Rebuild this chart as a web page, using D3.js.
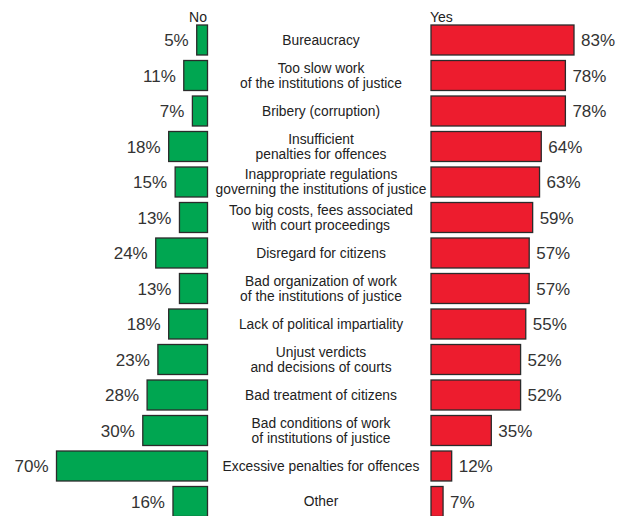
<!DOCTYPE html>
<html>
<head>
<meta charset="utf-8">
<script src="https://cdn.jsdelivr.net/npm/d3@7"></script>
<style>
  html, body { margin: 0; padding: 0; background: #fff; }
  svg { display: block; font-family: "Liberation Sans", Arial, sans-serif; }
</style>
</head>
<body>
<svg id="chart" width="629" height="516"></svg>
<script>
// Reasons given, with the share answering "No" and "Yes" (%)
const categories = [
  "Bureaucracy",
  "Too slow work\nof the institutions of justice",
  "Bribery (corruption)",
  "Insufficient\npenalties for offences",
  "Inappropriate regulations\ngoverning the institutions of justice",
  "Too big costs, fees associated\nwith court proceedings",
  "Disregard for citizens",
  "Bad organization of work\nof the institutions of justice",
  "Lack of political impartiality",
  "Unjust verdicts\nand decisions of courts",
  "Bad treatment of citizens",
  "Bad conditions of work\nof institutions of justice",
  "Excessive penalties for offences",
  "Other"
];
const noValues  = [5, 11, 7, 18, 15, 13, 24, 13, 18, 23, 28, 30, 70, 16];
const yesValues = [83, 78, 78, 64, 63, 59, 57, 57, 55, 52, 52, 35, 12, 7];
const seriesNames = ["No", "Yes"];

const svg = d3.select("#chart");

// 35.5 px per row, 30 px bars
const y = d3.scaleBand()
  .domain(d3.range(categories.length))
  .range([25, 25 + 35.5 * (categories.length - 0.155)])
  .paddingInner(0.155)
  .paddingOuter(0);

// "No" bars grow leftwards from x = 207.5, "Yes" bars rightwards from x = 431
const xNo  = d3.scaleLinear().domain([0, 70]).range([207.5, 56.5]);
const xYes = d3.scaleLinear().domain([0, 83]).range([431, 574]);

const green = "#00a651", red = "#ed1c2e", stroke = "#2b2b2b";

// Series headers
svg.append("text")
  .attr("x", 207).attr("y", 22)
  .attr("text-anchor", "end")
  .attr("font-size", 14).attr("fill", "#222")
  .text(seriesNames[0]);
svg.append("text")
  .attr("x", 430).attr("y", 22)
  .attr("text-anchor", "start")
  .attr("font-size", 14).attr("fill", "#222")
  .text(seriesNames[1]);

const rows = svg.selectAll("g.row")
  .data(categories.map((c, i) => ({ c, no: noValues[i], yes: yesValues[i], i })))
  .join("g").attr("class", "row");

// No bars
rows.append("rect")
  .attr("x", d => xNo(d.no))
  .attr("y", d => y(d.i))
  .attr("width", d => xNo(0) - xNo(d.no))
  .attr("height", y.bandwidth())
  .attr("fill", green)
  .attr("stroke", stroke).attr("stroke-width", 1.3);

rows.append("text")
  .attr("x", d => xNo(d.no) - 8)
  .attr("y", d => y(d.i) + y.bandwidth() / 2)
  .attr("dy", "0.38em")
  .attr("text-anchor", "end")
  .attr("font-size", 17).attr("fill", "#333")
  .text(d => d.no + "%");

// Yes bars
rows.append("rect")
  .attr("x", xYes(0))
  .attr("y", d => y(d.i))
  .attr("width", d => xYes(d.yes) - xYes(0))
  .attr("height", y.bandwidth())
  .attr("fill", red)
  .attr("stroke", stroke).attr("stroke-width", 1.3);

rows.append("text")
  .attr("x", d => xYes(d.yes) + 7)
  .attr("y", d => y(d.i) + y.bandwidth() / 2)
  .attr("dy", "0.38em")
  .attr("text-anchor", "start")
  .attr("font-size", 17).attr("fill", "#333")
  .text(d => d.yes + "%");

// Category labels, centred between the two bar groups
rows.each(function(d) {
  const lines = d.c.split("\n");
  const lh = 15;
  const cy = y(d.i) + y.bandwidth() / 2;
  const t = d3.select(this).append("text")
    .attr("text-anchor", "middle")
    .attr("font-size", 13.8).attr("fill", "#222");
  lines.forEach((ln, k) => {
    t.append("tspan")
      .attr("x", 321)
      .attr("y", cy + (k - (lines.length - 1) / 2) * lh)
      .attr("dy", "0.35em")
      .text(ln);
  });
});
</script>
</body>
</html>
